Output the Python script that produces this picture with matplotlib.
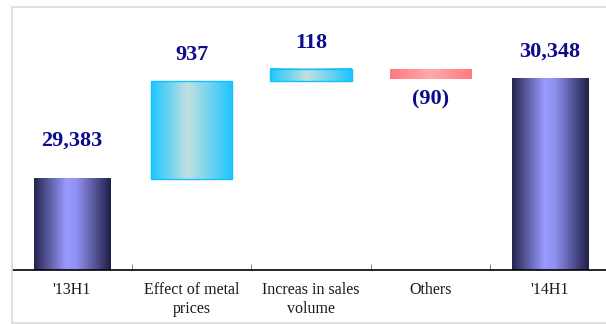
import matplotlib
matplotlib.use('Agg')
import matplotlib.pyplot as plt
from matplotlib.colors import LinearSegmentedColormap
from matplotlib.lines import Line2D
import numpy as np

categories = ["'13H1", "Effect of metal\nprices", "Increas in sales\nvolume", "Others", "'14H1"]
start_value = 29383
changes = [937, 118, -90]
end_value = 30348
labels = ['29,383', '937', '118', '(90)', '30,348']

# bottoms / heights for the waterfall
bottoms = [28500]
heights = [start_value - 28500]
level = start_value
for c in changes:
    bottoms.append(min(level, level + c))
    heights.append(abs(c))
    level += c
bottoms.append(28500)
heights.append(end_value - 28500)

kinds = ['total', 'up', 'up', 'down', 'total']
widths = [0.636, 0.68, 0.68, 0.68, 0.636]

cmaps = {
    'total': LinearSegmentedColormap.from_list('total', [(0, '#25254f'), (0.42, '#9a9aff'), (0.56, '#9090f0'), (1, '#1f1f48')]),
    'up': LinearSegmentedColormap.from_list('up', [(0, '#1cc6ff'), (0.45, '#c2e0e0'), (1, '#1cc6ff')]),
    'down': LinearSegmentedColormap.from_list('down', [(0, '#ff7a80'), (0.5, '#ffaaaa'), (1, '#ff7a80')]),
}
edges = {'total': 'none', 'up': '#12c0ff', 'down': 'none'}

fig = plt.figure(figsize=(6.06, 3.24), dpi=100)
ax = fig.add_axes([12.25 / 606, 54 / 324, 597.5 / 606, 259 / 324])

x = np.arange(len(categories))
grad = np.linspace(0, 1, 256).reshape(1, -1)

bars = ax.bar(x, heights, bottom=bottoms, width=widths, color='none', zorder=3)
for b, kind in zip(bars, kinds):
    x0, y0 = b.get_x(), b.get_y()
    x1, y1 = x0 + b.get_width(), y0 + b.get_height()
    ax.imshow(grad, cmap=cmaps[kind], extent=[x0, x1, y0, y1], aspect='auto', zorder=2)
    b.set_edgecolor(edges[kind])
    b.set_linewidth(1.0)

ax.set_xlim(-0.5, 4.5)
ax.set_ylim(28500, 31000)

# value labels
tops = [start_value, start_value + changes[0], start_value + changes[0] + changes[1],
        start_value + sum(changes), end_value]
offsets = [38, 26, 26, -21, 27]
for i, (lab, off) in enumerate(zip(labels, offsets)):
    yv = tops[i]
    if kinds[i] == 'down':
        yv = bottoms[i]
    ax.annotate(lab, (x[i], yv), xytext=(0, off), textcoords='offset pixels',
                ha='center', va='center', fontsize=16, fontweight='bold',
                family='Liberation Serif', color='#0c0c8c')

for s in ['left', 'right', 'top']:
    ax.spines[s].set_visible(False)
ax.spines['bottom'].set_color('black')
ax.spines['bottom'].set_linewidth(1.2)
ax.set_yticks([])
ax.set_xticks(x)
ax.set_xticklabels(categories, family='Liberation Serif', fontsize=11.5, color='#1a1a1a')
ax.tick_params(axis='x', which='major', length=0, pad=9)
ax.set_xticks([-0.5, 0.5, 1.5, 2.5, 3.5], minor=True)
ax.tick_params(axis='x', which='minor', direction='in', length=4, color='#888888', width=0.8)

# outer frame: left, top and bottom edges only
fx0, fy0, fy1 = 11.5 / 606, 1.5 / 324, 317 / 324
for xs, ys in [([fx0, fx0], [fy0, fy1]), ([fx0, 1.2], [fy1, fy1]), ([fx0, 1.2], [fy0, fy0])]:
    fig.lines.append(Line2D(xs, ys, transform=fig.transFigure, color='#dedede', linewidth=1.3))

fig.savefig('out.png', dpi=100)
